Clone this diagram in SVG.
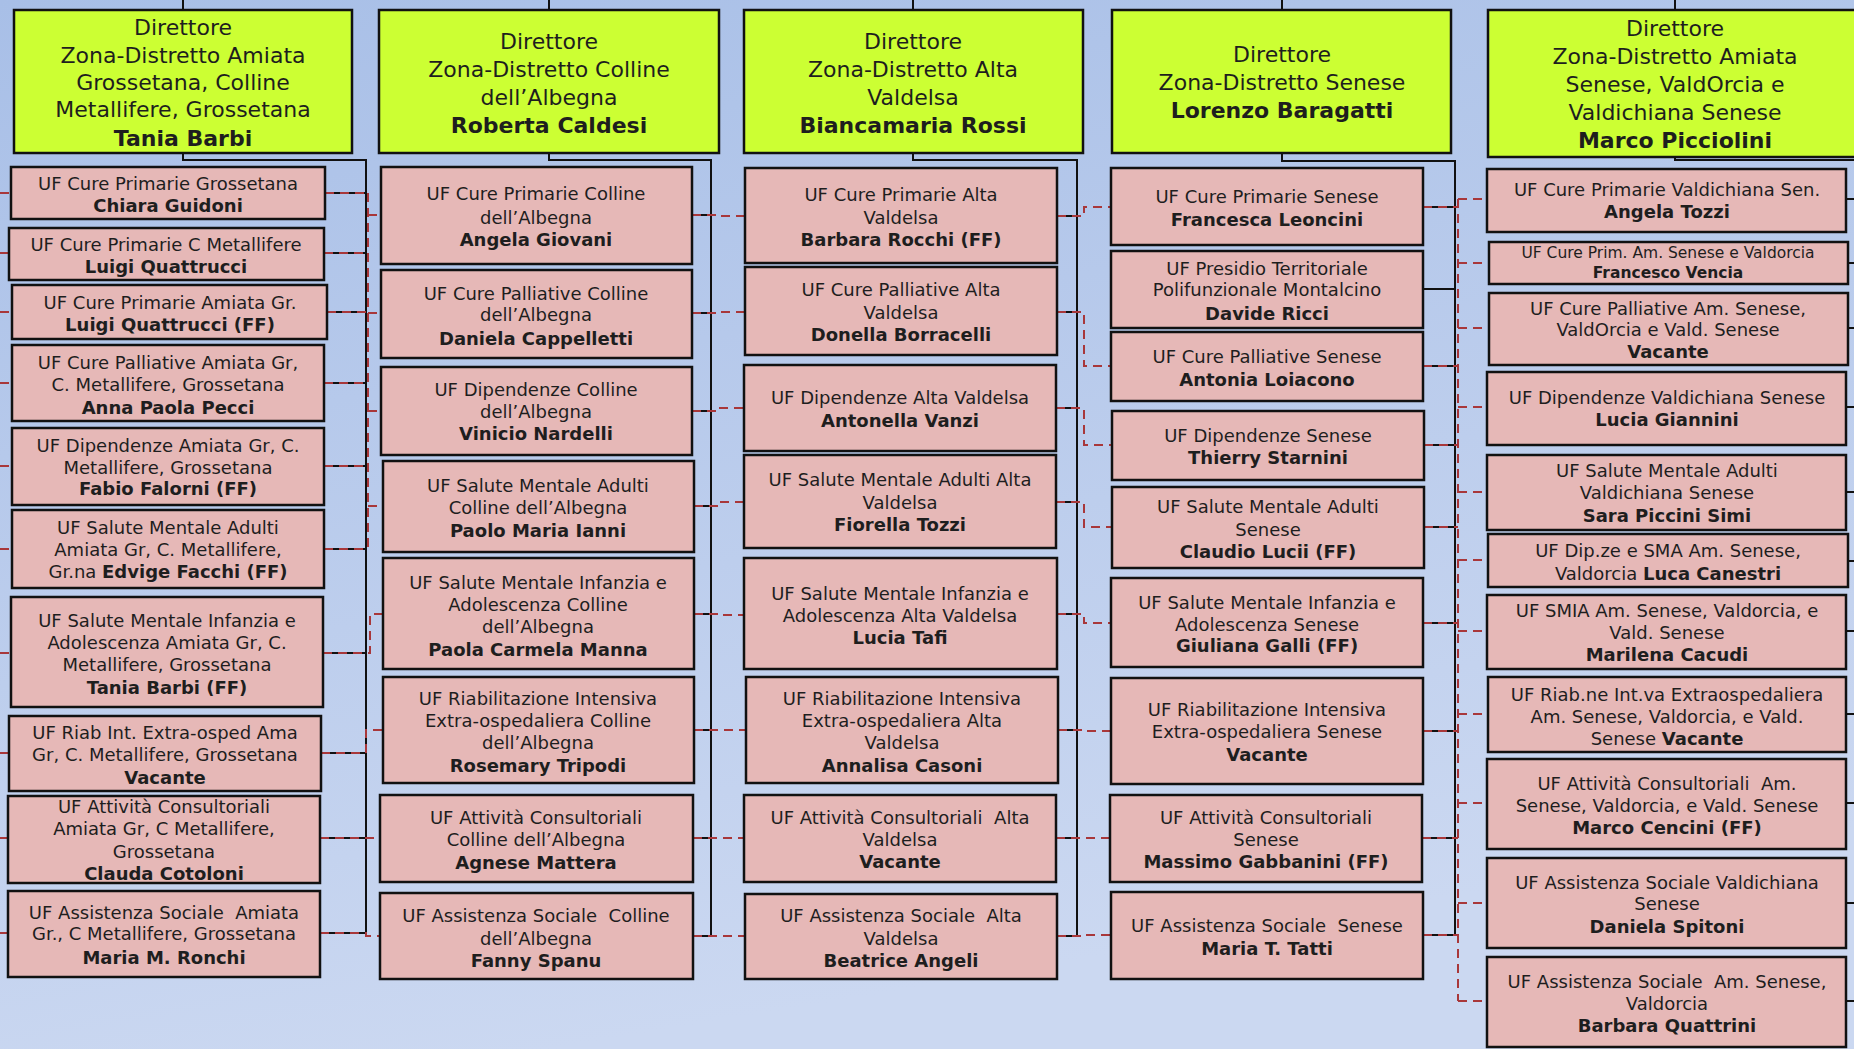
<svg xmlns="http://www.w3.org/2000/svg" width="1854" height="1049" viewBox="0 0 1854 1049">
<defs>
<linearGradient id="bg" x1="0" y1="0" x2="0.3" y2="1">
<stop offset="0" stop-color="#a8bfe7"/>
<stop offset="1" stop-color="#cbd8f1"/>
</linearGradient>
</defs>
<style>
.d{fill:#ccff33;stroke:#111;stroke-width:2.5}
.u{fill:#e6b8b7;stroke:#111;stroke-width:2.5}
text{font-family:"DejaVu Sans","Liberation Sans",sans-serif;fill:#1e1e1e;text-anchor:middle}
.t{font-size:18px}
.s{font-size:15.5px}
.h{font-size:22px}
.b{font-weight:bold}
.bus{fill:none;stroke:#111;stroke-width:2}
.dash{fill:none;stroke:#a8373a;stroke-width:2;stroke-dasharray:9 6}
</style>
<rect x="0" y="0" width="1854" height="1049" fill="url(#bg)"/>

<g id="connectors">
<path class="bus" d="M183,0V10M183,153V160H366V933M325,193H366M324,253H366M327,312H366M324,383H366M324,466H366M324,549H366M323,653H366M321,753H366M320,838H366M320,933H366"/>
<path class="bus" d="M549,0V10M549,153V160H711V936M692,215H711M692,313H711M692,411H711M694,506H711M694,614H711M694,730H711M693,838H711M693,936H711"/>
<path class="bus" d="M913,0V10M913,153V160H1077V936M1057,216H1077M1057,312H1077M1056,408H1077M1056,502H1077M1057,614H1077M1058,730H1077M1056,838H1077M1057,936H1077"/>
<path class="bus" d="M1282,0V10M1282,153V161H1455V935M1423,207H1455M1423,289H1455M1423,366H1455M1424,445H1455M1424,527H1455M1423,623H1455M1423,731H1455M1422,838H1455M1423,935H1455"/>
<path class="bus" d="M1675,0V10M1675,157V160H1854M1846,199H1854M1848,263H1854M1848,328H1854M1846,407H1854M1846,492H1854M1848,561H1854M1846,631H1854M1846,714H1854M1846,803H1854M1846,903H1854M1846,1001H1854"/>
<path class="dash" d="M0,193H11M0,253H9M0,312H12M0,383H12M0,466H12M0,549H12M0,653H11M0,753H9M0,838H8M0,933H8"/>
<path class="dash" d="M325,193H368M324,253H368M327,312H368M324,383H368M324,466H368M324,549H368M368,193V549M368,215H381M368,313H381M368,411H381M368,506H383M323,653H370V614H383M321,753H366V730H383M320,838H380M320,933H366V936H380"/>
<path class="dash" d="M692,215H718V216H745M692,313H718V312H745M692,411H718V408H744M694,506H718V502H744M694,614H718V615H744M694,730H746M693,838H744M693,936H745"/>
<path class="dash" d="M1057,216H1084V207H1111M1057,312H1084V366H1111M1056,408H1084V445H1112M1056,502H1084V527H1112M1057,614H1084V623H1111M1058,730H1084V731H1111M1056,838H1110M1057,936H1084V935H1111"/>
<path class="dash" d="M1423,207H1458M1423,366H1458M1424,445H1458M1424,527H1458M1423,623H1458M1423,731H1458M1422,838H1458M1423,935H1458M1458,199V1001M1458,199H1487M1458,263H1489M1458,328H1489M1458,407H1487M1458,492H1487M1458,560H1488M1458,631H1487M1458,714H1488M1458,803H1487M1458,903H1487M1458,1001H1487"/>
</g>

<g id="dir1"><rect class="d" x="14" y="10" width="338" height="143"/>
<text class="h" x="183" y="35">Direttore</text><text class="h" x="183" y="63">Zona-Distretto Amiata</text><text class="h" x="183" y="90">Grossetana, Colline</text><text class="h" x="183" y="117">Metallifere, Grossetana</text><text class="h b" x="183" y="146">Tania Barbi</text></g>
<g id="dir2"><rect class="d" x="379" y="10" width="340" height="143"/>
<text class="h" x="549" y="49">Direttore</text><text class="h" x="549" y="77">Zona-Distretto Colline</text><text class="h" x="549" y="105">dell’Albegna</text><text class="h b" x="549" y="133">Roberta Caldesi</text></g>
<g id="dir3"><rect class="d" x="744" y="10" width="339" height="143"/>
<text class="h" x="913" y="49">Direttore</text><text class="h" x="913" y="77">Zona-Distretto Alta</text><text class="h" x="913" y="105">Valdelsa</text><text class="h b" x="913" y="133">Biancamaria Rossi</text></g>
<g id="dir4"><rect class="d" x="1112" y="10" width="339" height="143"/>
<text class="h" x="1282" y="62">Direttore</text><text class="h" x="1282" y="90">Zona-Distretto Senese</text><text class="h b" x="1282" y="118">Lorenzo Baragatti</text></g>
<g id="dir5"><rect class="d" x="1488" y="10" width="376" height="147"/>
<text class="h" x="1675" y="36">Direttore</text><text class="h" x="1675" y="64">Zona-Distretto Amiata</text><text class="h" x="1675" y="92">Senese, ValdOrcia e</text><text class="h" x="1675" y="120">Valdichiana Senese</text><text class="h b" x="1675" y="148">Marco Picciolini</text></g>

<g id="c1n1"><rect class="u" x="11" y="167" width="314" height="52"/><text class="t" x="168" y="190">UF Cure Primarie Grossetana</text><text class="t b" x="168" y="212">Chiara Guidoni</text></g>
<g id="c1n2"><rect class="u" x="9" y="228" width="315" height="52"/><text class="t" x="166" y="251">UF Cure Primarie C Metallifere</text><text class="t b" x="166" y="273">Luigi Quattrucci</text></g>
<g id="c1n3"><rect class="u" x="12" y="285" width="315" height="54"/><text class="t" x="170" y="309">UF Cure Primarie Amiata Gr.</text><text class="t b" x="170" y="331">Luigi Quattrucci (FF)</text></g>
<g id="c1n4"><rect class="u" x="12" y="345" width="312" height="76"/><text class="t" x="168" y="369">UF Cure Palliative Amiata Gr,</text><text class="t" x="168" y="391">C. Metallifere, Grossetana</text><text class="t b" x="168" y="414">Anna Paola Pecci</text></g>
<g id="c1n5"><rect class="u" x="12" y="428" width="312" height="77"/><text class="t" x="168" y="452">UF Dipendenze Amiata Gr, C.</text><text class="t" x="168" y="474">Metallifere, Grossetana</text><text class="t b" x="168" y="495">Fabio Falorni (FF)</text></g>
<g id="c1n6"><rect class="u" x="12" y="510" width="312" height="78"/><text class="t" x="168" y="534">UF Salute Mentale Adulti</text><text class="t" x="168" y="556">Amiata Gr, C. Metallifere,</text><text class="t" x="168" y="578">Gr.na <tspan class="b">Edvige Facchi (FF)</tspan></text></g>
<g id="c1n7"><rect class="u" x="11" y="597" width="312" height="110"/><text class="t" x="167" y="627">UF Salute Mentale Infanzia e</text><text class="t" x="167" y="649">Adolescenza Amiata Gr, C.</text><text class="t" x="167" y="671">Metallifere, Grossetana</text><text class="t b" x="167" y="694">Tania Barbi (FF)</text></g>
<g id="c1n8"><rect class="u" x="9" y="716" width="312" height="75"/><text class="t" x="165" y="739">UF Riab Int. Extra-osped Ama</text><text class="t" x="165" y="761">Gr, C. Metallifere, Grossetana</text><text class="t b" x="165" y="784">Vacante</text></g>
<g id="c1n9"><rect class="u" x="8" y="796" width="312" height="87"/><text class="t" x="164" y="813">UF Attività Consultoriali</text><text class="t" x="164" y="835">Amiata Gr, C Metallifere,</text><text class="t" x="164" y="858">Grossetana</text><text class="t b" x="164" y="880">Clauda Cotoloni</text></g>
<g id="c1n10"><rect class="u" x="8" y="891" width="312" height="86"/><text class="t" x="164" y="919">UF Assistenza Sociale &#160;Amiata</text><text class="t" x="164" y="940">Gr., C Metallifere, Grossetana</text><text class="t b" x="164" y="964">Maria M. Ronchi</text></g>

<g id="c2n1"><rect class="u" x="381" y="167" width="311" height="97"/><text class="t" x="536" y="200">UF Cure Primarie Colline</text><text class="t" x="536" y="224">dell’Albegna</text><text class="t b" x="536" y="246">Angela Giovani</text></g>
<g id="c2n2"><rect class="u" x="381" y="270" width="311" height="88"/><text class="t" x="536" y="300">UF Cure Palliative Colline</text><text class="t" x="536" y="321">dell’Albegna</text><text class="t b" x="536" y="345">Daniela Cappelletti</text></g>
<g id="c2n3"><rect class="u" x="381" y="367" width="311" height="88"/><text class="t" x="536" y="396">UF Dipendenze Colline</text><text class="t" x="536" y="418">dell’Albegna</text><text class="t b" x="536" y="440">Vinicio Nardelli</text></g>
<g id="c2n4"><rect class="u" x="383" y="461" width="311" height="91"/><text class="t" x="538" y="492">UF Salute Mentale Adulti</text><text class="t" x="538" y="514">Colline dell’Albegna</text><text class="t b" x="538" y="537">Paolo Maria Ianni</text></g>
<g id="c2n5"><rect class="u" x="383" y="558" width="311" height="111"/><text class="t" x="538" y="589">UF Salute Mentale Infanzia e</text><text class="t" x="538" y="611">Adolescenza Colline</text><text class="t" x="538" y="633">dell’Albegna</text><text class="t b" x="538" y="656">Paola Carmela Manna</text></g>
<g id="c2n6"><rect class="u" x="383" y="677" width="311" height="106"/><text class="t" x="538" y="705">UF Riabilitazione Intensiva</text><text class="t" x="538" y="727">Extra-ospedaliera Colline</text><text class="t" x="538" y="749">dell’Albegna</text><text class="t b" x="538" y="772">Rosemary Tripodi</text></g>
<g id="c2n7"><rect class="u" x="380" y="795" width="313" height="87"/><text class="t" x="536" y="824">UF Attività Consultoriali</text><text class="t" x="536" y="846">Colline dell’Albegna</text><text class="t b" x="536" y="869">Agnese Mattera</text></g>
<g id="c2n8"><rect class="u" x="380" y="893" width="313" height="86"/><text class="t" x="536" y="922">UF Assistenza Sociale &#160;Colline</text><text class="t" x="536" y="945">dell’Albegna</text><text class="t b" x="536" y="967">Fanny Spanu</text></g>

<g id="c3n1"><rect class="u" x="745" y="168" width="312" height="95"/><text class="t" x="901" y="201">UF Cure Primarie Alta</text><text class="t" x="901" y="224">Valdelsa</text><text class="t b" x="901" y="246">Barbara Rocchi (FF)</text></g>
<g id="c3n2"><rect class="u" x="745" y="267" width="312" height="88"/><text class="t" x="901" y="296">UF Cure Palliative Alta</text><text class="t" x="901" y="319">Valdelsa</text><text class="t b" x="901" y="341">Donella Borracelli</text></g>
<g id="c3n3"><rect class="u" x="744" y="365" width="312" height="86"/><text class="t" x="900" y="404">UF Dipendenze Alta Valdelsa</text><text class="t b" x="900" y="427">Antonella Vanzi</text></g>
<g id="c3n4"><rect class="u" x="744" y="455" width="312" height="93"/><text class="t" x="900" y="486">UF Salute Mentale Adulti Alta</text><text class="t" x="900" y="509">Valdelsa</text><text class="t b" x="900" y="531">Fiorella Tozzi</text></g>
<g id="c3n5"><rect class="u" x="744" y="558" width="313" height="111"/><text class="t" x="900" y="600">UF Salute Mentale Infanzia e</text><text class="t" x="900" y="622">Adolescenza Alta Valdelsa</text><text class="t b" x="900" y="644">Lucia Tafi</text></g>
<g id="c3n6"><rect class="u" x="746" y="677" width="312" height="106"/><text class="t" x="902" y="705">UF Riabilitazione Intensiva</text><text class="t" x="902" y="727">Extra-ospedaliera Alta</text><text class="t" x="902" y="749">Valdelsa</text><text class="t b" x="902" y="772">Annalisa Casoni</text></g>
<g id="c3n7"><rect class="u" x="744" y="795" width="312" height="87"/><text class="t" x="900" y="824">UF Attività Consultoriali &#160;Alta</text><text class="t" x="900" y="846">Valdelsa</text><text class="t b" x="900" y="868">Vacante</text></g>
<g id="c3n8"><rect class="u" x="745" y="894" width="312" height="85"/><text class="t" x="901" y="922">UF Assistenza Sociale &#160;Alta</text><text class="t" x="901" y="945">Valdelsa</text><text class="t b" x="901" y="967">Beatrice Angeli</text></g>

<g id="c4n1"><rect class="u" x="1111" y="168" width="312" height="77"/><text class="t" x="1267" y="203">UF Cure Primarie Senese</text><text class="t b" x="1267" y="226">Francesca Leoncini</text></g>
<g id="c4n2"><rect class="u" x="1111" y="251" width="312" height="77"/><text class="t" x="1267" y="275">UF Presidio Territoriale</text><text class="t" x="1267" y="296">Polifunzionale Montalcino</text><text class="t b" x="1267" y="320">Davide Ricci</text></g>
<g id="c4n3"><rect class="u" x="1111" y="332" width="312" height="69"/><text class="t" x="1267" y="363">UF Cure Palliative Senese</text><text class="t b" x="1267" y="386">Antonia Loiacono</text></g>
<g id="c4n4"><rect class="u" x="1112" y="411" width="312" height="69"/><text class="t" x="1268" y="442">UF Dipendenze Senese</text><text class="t b" x="1268" y="464">Thierry Starnini</text></g>
<g id="c4n5"><rect class="u" x="1112" y="487" width="312" height="81"/><text class="t" x="1268" y="513">UF Salute Mentale Adulti</text><text class="t" x="1268" y="536">Senese</text><text class="t b" x="1268" y="558">Claudio Lucii (FF)</text></g>
<g id="c4n6"><rect class="u" x="1111" y="578" width="312" height="89"/><text class="t" x="1267" y="609">UF Salute Mentale Infanzia e</text><text class="t" x="1267" y="631">Adolescenza Senese</text><text class="t b" x="1267" y="652">Giuliana Galli (FF)</text></g>
<g id="c4n7"><rect class="u" x="1111" y="678" width="312" height="106"/><text class="t" x="1267" y="716">UF Riabilitazione Intensiva</text><text class="t" x="1267" y="738">Extra-ospedaliera Senese</text><text class="t b" x="1267" y="761">Vacante</text></g>
<g id="c4n8"><rect class="u" x="1110" y="795" width="312" height="87"/><text class="t" x="1266" y="824">UF Attività Consultoriali</text><text class="t" x="1266" y="846">Senese</text><text class="t b" x="1266" y="868">Massimo Gabbanini (FF)</text></g>
<g id="c4n9"><rect class="u" x="1111" y="892" width="312" height="87"/><text class="t" x="1267" y="932">UF Assistenza Sociale &#160;Senese</text><text class="t b" x="1267" y="955">Maria T. Tatti</text></g>

<g id="c5n1"><rect class="u" x="1487" y="169" width="359" height="63"/><text class="t" x="1667" y="196">UF Cure Primarie Valdichiana Sen.</text><text class="t b" x="1667" y="218">Angela Tozzi</text></g>
<g id="c5n2"><rect class="u" x="1489" y="242" width="359" height="42"/><text class="s" x="1668" y="258">UF Cure Prim. Am. Senese e Valdorcia</text><text class="s b" x="1668" y="278">Francesco Vencia</text></g>
<g id="c5n3"><rect class="u" x="1489" y="293" width="359" height="72"/><text class="t" x="1668" y="315">UF Cure Palliative Am. Senese,</text><text class="t" x="1668" y="336">ValdOrcia e Vald. Senese</text><text class="t b" x="1668" y="358">Vacante</text></g>
<g id="c5n4"><rect class="u" x="1487" y="372" width="359" height="73"/><text class="t" x="1667" y="404">UF Dipendenze Valdichiana Senese</text><text class="t b" x="1667" y="426">Lucia Giannini</text></g>
<g id="c5n5"><rect class="u" x="1487" y="455" width="359" height="75"/><text class="t" x="1667" y="477">UF Salute Mentale Adulti</text><text class="t" x="1667" y="499">Valdichiana Senese</text><text class="t b" x="1667" y="522">Sara Piccini Simi</text></g>
<g id="c5n6"><rect class="u" x="1488" y="534" width="360" height="53"/><text class="t" x="1668" y="557">UF Dip.ze e SMA Am. Senese,</text><text class="t" x="1668" y="580">Valdorcia <tspan class="b">Luca Canestri</tspan></text></g>
<g id="c5n7"><rect class="u" x="1487" y="595" width="359" height="74"/><text class="t" x="1667" y="617">UF SMIA Am. Senese, Valdorcia, e</text><text class="t" x="1667" y="639">Vald. Senese</text><text class="t b" x="1667" y="661">Marilena Cacudi</text></g>
<g id="c5n8"><rect class="u" x="1488" y="677" width="358" height="75"/><text class="t" x="1667" y="701">UF Riab.ne Int.va Extraospedaliera</text><text class="t" x="1667" y="723">Am. Senese, Valdorcia, e Vald.</text><text class="t" x="1667" y="745">Senese <tspan class="b">Vacante</tspan></text></g>
<g id="c5n9"><rect class="u" x="1487" y="759" width="359" height="90"/><text class="t" x="1667" y="790">UF Attività Consultoriali &#160;Am.</text><text class="t" x="1667" y="812">Senese, Valdorcia, e Vald. Senese</text><text class="t b" x="1667" y="834">Marco Cencini (FF)</text></g>
<g id="c5n10"><rect class="u" x="1487" y="858" width="359" height="90"/><text class="t" x="1667" y="889">UF Assistenza Sociale Valdichiana</text><text class="t" x="1667" y="910">Senese</text><text class="t b" x="1667" y="933">Daniela Spitoni</text></g>
<g id="c5n11"><rect class="u" x="1487" y="957" width="359" height="90"/><text class="t" x="1667" y="988">UF Assistenza Sociale &#160;Am. Senese,</text><text class="t" x="1667" y="1010">Valdorcia</text><text class="t b" x="1667" y="1032">Barbara Quattrini</text></g>
</svg>
